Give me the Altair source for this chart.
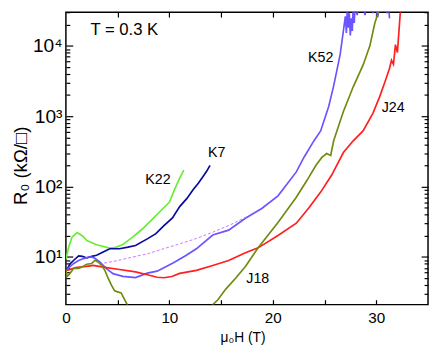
import altair as alt
import pandas as pd

# ---- data (x = mu0 H in T, y = R0 in kOhm/sq) ----
k22_x = [0, 0.28, 0.6, 1.09, 1.61, 2.02, 2.97, 4.24, 4.83, 5.5, 6.45, 7.39, 8.34, 9.29, 10.0, 10.52, 11.0, 11.4]
k22_y = [9.3, 14.0, 19.2, 22.2, 19.9, 17.1, 14.9, 13.4, 13.7, 15.0, 19.2, 25.0, 34.3, 47.3, 60, 92, 132, 171]

k7_x = [0, 0.12, 0.4, 0.76, 1.23, 1.6, 2.02, 2.5, 2.97, 3.6, 4.24, 5.18, 6.0, 6.73, 7.87, 8.7, 9.45, 10.3, 11.0, 11.7, 12.29, 12.8, 13.24, 13.6, 13.93]
k7_y = [6.4, 6.7, 8.0, 9.0, 10.4, 10.2, 9.7, 10.2, 10.6, 11.8, 13.1, 13.1, 13.8, 14.6, 18.1, 21.5, 27.7, 36, 52, 68, 90, 112, 138, 165, 201]

k52_x = [0, 0.28, 0.76, 1.23, 1.71, 2.18, 2.49, 2.84, 3.32, 3.89, 4.55, 5.5, 6.73, 7.87, 8.82, 10.4, 11.6, 12.61,
         14.19, 15.73, 17.35, 18.93, 20.5, 22.27, 23.03, 23.98, 24.62, 25.4, 25.88, 26.51, 26.82, 27.01,
         27.11, 27.2, 27.3, 27.39, 27.49, 27.58, 27.68, 27.77, 27.87, 27.96, 28.15, 28.34, 28.53, 28.72,
         28.91, 29.1, 29.29, 29.48, 29.67, 29.86, 30.14, 30.33, 30.62, 30.81, 31.0, 31.19, 31.28]
k52_y = [6.3, 7.1, 8.1, 8.9, 9.5, 10.0, 10.0, 9.5, 8.4, 6.9, 5.8, 5.3, 5.1, 5.9, 6.3, 8.3, 10.5, 13.1,
         20.5, 24.1, 35.5, 48.9, 74, 162, 264, 450, 618, 1380, 2700, 7560, 16300, 26200,
         15200, 34200, 18100, 29100, 14000, 24600, 16300, 36600, 21100, 40200, 27300, 40200, 31000, 40200,
         27300, 40200, 34200, 47000, 29100, 40200, 25600, 40200, 33000, 47000, 29100, 36600, 24600]

j24_x = [0, 0.28, 0.95, 2.0, 2.65, 3.6, 5.02, 6.73, 7.87, 8.82, 9.48, 10.24, 11.0, 12.61, 14.19, 15.73, 17.35,
         18.58, 20.5, 22.27, 23.51, 24.64, 25.69, 26.82, 27.77, 28.72, 29.67, 30.33, 30.9, 31.28, 31.47,
         31.66, 31.85, 32.04, 32.2, 32.35, 32.42]
j24_y = [6.45, 6.56, 7.1, 7.35, 7.6, 7.2, 6.7, 6.15, 5.6, 5.16, 5.08, 5.28, 5.86, 6.45, 7.59, 8.9, 11.5,
         13.5, 20.2, 30.2, 50.5, 84.3, 146, 305, 448, 618, 1100, 1900, 3280, 4820, 6240,
         5480, 10400, 8060, 16900, 34200, 55000]

j18a_x = [0, 0.12, 0.3, 0.76, 1.23, 1.7, 2.02, 2.49, 2.82, 3.1, 3.44, 3.8, 4.08, 4.4, 4.71, 5.0, 5.34, 5.66, 5.97, 6.3]
j18a_y = [6.5, 5.3, 5.6, 6.9, 6.9, 7.4, 7.9, 8.1, 9.0, 8.5, 7.66, 6.3, 5.0, 4.0, 3.3, 3.2, 3.09, 2.5, 2.05, 1.6]

j18b_x = [13.9, 14.19, 14.69, 15.45, 16.4, 17.35, 18.58, 20.5, 22.27, 23.32, 24.17, 24.74, 25.21, 25.59,
          25.88, 26.82, 27.77, 28.72, 29.38, 29.86, 30.33, 30.62]
j18b_y = [1.6, 2.1, 2.47, 3.5, 5.0, 7.35, 13.5, 31, 70.6, 124, 201, 260, 295, 277,
          448, 1170, 2620, 5310, 10000, 21100, 34200, 45000]

dash_x = [3.7, 5.02, 6.45, 7.87, 9.29, 11.0, 12.61, 14.22, 15.92, 17.63]
dash_y = [8.2, 8.91, 10.0, 11.1, 12.9, 15.4, 18.3, 22.6, 28.8, 38.4]

series_names = ["K22", "K7", "K52", "J24", "J18", "fit"]
series_colors = ["#66ee33", "#0a0a9e", "#6a55ff", "#ff1f1f", "#6f8c10", "#cc77ff"]

label_text = ["K22", "K7", "K52", "J24", "J18"]
label_x = [7.68, 13.74, 23.41, 30.52, 17.44]
label_y = [124, 295, 6650, 1294, 4.84]

temp_text = ["T = 0.3 K"]
temp_x = [2.37]
temp_y = [16900]

x_label_values = [0, 10, 20, 30]
x_tick_values = [5, 10, 15, 20, 25, 30]
y_major = [10, 100, 1000, 10000]
y_minor = [3, 4, 5, 6, 7, 8, 9, 20, 30, 40, 50, 60, 70, 80, 90, 200, 300, 400, 500, 600, 700, 800, 900,
           2000, 3000, 4000, 5000, 6000, 7000, 8000, 9000, 20000, 30000]

# ---- tables ----
rows = []
for name, seg, xs_, ys_ in [("K22", "K22", k22_x, k22_y), ("K7", "K7", k7_x, k7_y),
                            ("K52", "K52", k52_x, k52_y), ("J24", "J24", j24_x, j24_y),
                            ("J18", "J18a", j18a_x, j18a_y), ("J18", "J18b", j18b_x, j18b_y)]:
    for x, y in zip(xs_, ys_):
        rows.append({"x": x, "y": y, "series": name, "seg": seg})
lines_df = pd.DataFrame(rows)
dash_df = pd.DataFrame({"x": dash_x, "y": dash_y, "series": "fit"})
lab_df = pd.DataFrame({"x": label_x, "y": label_y, "t": label_text})
temp_df = pd.DataFrame({"x": temp_x, "y": temp_y, "t": temp_text})

xs = alt.Scale(domain=[0, 35], nice=False, zero=False)
ys = alt.Scale(type="log", domain=[2.107, 30100], nice=False)
cs = alt.Scale(domain=series_names, range=series_colors)

FONT = "Liberation Sans"

sup = "['⁰','¹','²','³','⁴','⁵'][round(log(datum.value)/LN10)]"

x_lab_axis = alt.Axis(values=x_label_values, ticks=False, domain=False, labelFontSize=15.5,
                      labelPadding=6, labelFlush=False, title="μ₀H (T)", titleFontSize=14,
                      titleFontWeight="normal", titleY=38, titleBaseline="alphabetic", titleX=180)
y_lab_axis = alt.Axis(values=y_major, ticks=False, domain=False, labelFontSize=19.5, labelPadding=4,
                      labelExpr="'10' + " + sup, labelBaseline="middle",
                      title="R₀ (kΩ/□)", titleFontSize=19, titleFontWeight="normal",
                      titleX=-40, titleY=156, titleAlign="center", titleBaseline="alphabetic", titleAngle=-90)

def tick_axis(orient, values, size):
    return alt.Axis(orient=orient, values=values, tickSize=size, offset=-size, labels=False,
                    domain=False, title=None, tickWidth=1.2)

l1 = alt.Chart(lines_df).mark_line(clip=True, strokeWidth=1.7).encode(
    x=alt.X("x:Q", scale=xs, axis=x_lab_axis),
    y=alt.Y("y:Q", scale=ys, axis=y_lab_axis),
    color=alt.Color("series:N", scale=cs, legend=None),
    detail="seg:N",
)
l2 = alt.Chart(dash_df).mark_line(clip=True, strokeWidth=1, strokeDash=[3, 2]).encode(
    x=alt.X("x:Q", scale=xs, axis=tick_axis("bottom", x_tick_values, 5)),
    y=alt.Y("y:Q", scale=ys, axis=tick_axis("left", y_major, 7)),
    color=alt.Color("series:N", scale=cs, legend=None),
)
l3 = alt.Chart(lab_df).mark_text(align="left", baseline="middle", fontSize=14.5, font=FONT, color="black").encode(
    x=alt.X("x:Q", scale=xs, axis=tick_axis("top", x_tick_values, 5)),
    y=alt.Y("y:Q", scale=ys, axis=tick_axis("left", y_minor, 4)),
    text="t:N",
)
l4 = alt.Chart(temp_df).mark_text(align="left", baseline="middle", fontSize=17, font=FONT, color="black").encode(
    x=alt.X("x:Q", scale=xs, axis=None),
    y=alt.Y("y:Q", scale=ys, axis=tick_axis("right", y_major, 7)),
    text="t:N",
)
l5 = alt.Chart(temp_df).mark_text(opacity=0).encode(
    x=alt.X("x:Q", scale=xs, axis=None),
    y=alt.Y("y:Q", scale=ys, axis=tick_axis("right", y_minor, 4)),
    text="t:N",
)

chart = alt.layer(l1, l2, l3, l4, l5).resolve_axis(x="independent", y="independent").properties(
    width=369, height=298,
    padding={"left": 59, "top": 1, "right": 1, "bottom": 44},
    autosize=alt.AutoSizeParams(type="none"),
).configure_view(stroke="black", strokeWidth=1.5).configure_axis(
    grid=False, tickColor="black", domainColor="black", labelColor="black", titleColor="black",
    labelFont=FONT, titleFont=FONT,
)

chart.save("out.html", embed_options={"renderer": "svg", "actions": False})
